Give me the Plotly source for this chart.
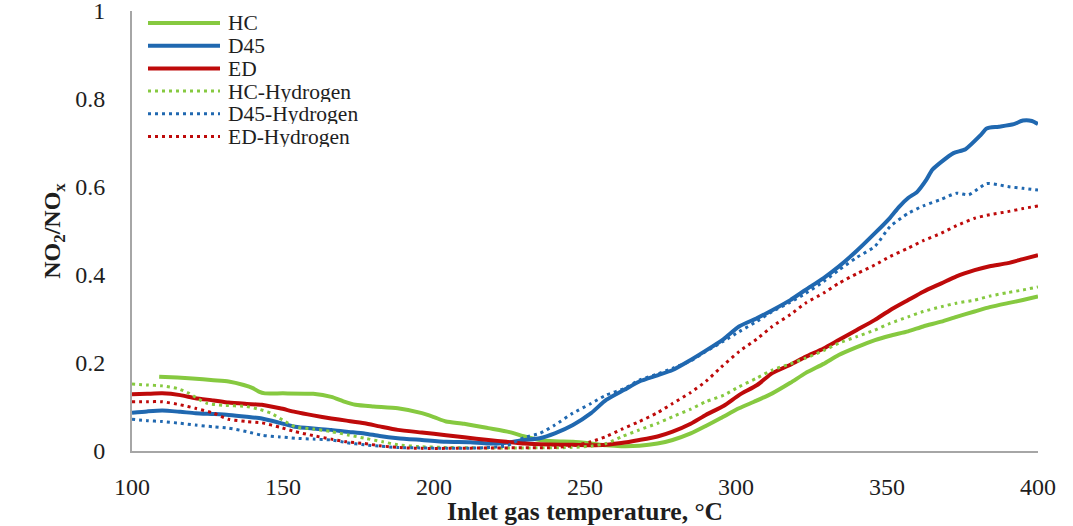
import plotly.graph_objects as go

# Inlet gas temperature (°C) and NO2/NOx ratio for each fuel / hydrogen case
hc_t = [109, 115, 120, 127, 132, 137, 140, 142, 144, 150, 160, 166, 170, 174, 180, 188, 196, 200, 204,
        210, 218, 225, 230, 235, 240, 246, 252, 257, 262, 268, 274, 279, 285, 290, 295, 301, 306, 312,
        318, 323, 329, 334, 340, 346, 351, 357, 362, 368, 373, 379, 384, 390, 395, 400]
hc_v = [0.169, 0.167, 0.165, 0.161, 0.158, 0.150, 0.143, 0.135, 0.131, 0.131, 0.130, 0.123, 0.113, 0.105,
        0.101, 0.097, 0.086, 0.077, 0.067, 0.062, 0.052, 0.043, 0.033, 0.025, 0.022, 0.021, 0.017, 0.013,
        0.011, 0.012, 0.017, 0.025, 0.040, 0.057, 0.075, 0.097, 0.112, 0.131, 0.155, 0.177, 0.198, 0.218,
        0.236, 0.252, 0.262, 0.272, 0.283, 0.294, 0.305, 0.317, 0.327, 0.336, 0.343, 0.351]

d45_t = [100, 105, 110, 116, 121, 127, 132, 138, 143, 149, 154, 160, 166, 171, 177, 182, 188, 196, 204,
         212, 218, 224, 230, 235, 240, 246, 252, 257, 263, 268, 274, 279, 285, 290, 296, 301, 307, 312,
         318, 323, 329, 334, 340, 346, 351, 354, 357, 360, 363, 365, 368, 372, 376, 381, 383, 387, 392,
         395, 398, 400]
d45_v = [0.087, 0.090, 0.092, 0.089, 0.086, 0.084, 0.082, 0.078, 0.074, 0.064, 0.055, 0.051, 0.048, 0.044,
         0.040, 0.034, 0.029, 0.025, 0.021, 0.020, 0.017, 0.019, 0.025, 0.029, 0.040, 0.059, 0.086, 0.116,
         0.139, 0.158, 0.172, 0.184, 0.207, 0.228, 0.255, 0.283, 0.302, 0.320, 0.343, 0.366, 0.393, 0.419,
         0.455, 0.495, 0.530, 0.555, 0.575, 0.589, 0.616, 0.639, 0.657, 0.677, 0.686, 0.718, 0.733, 0.737,
         0.743, 0.751, 0.750, 0.743]

ed_t = [100, 105, 110, 116, 121, 127, 132, 138, 143, 149, 154, 160, 166, 171, 177, 182, 188, 196, 204,
        210, 218, 224, 230, 238, 246, 252, 257, 262, 268, 274, 279, 285, 290, 296, 301, 307, 312, 318,
        323, 329, 334, 340, 346, 351, 357, 362, 368, 373, 379, 384, 390, 395, 400]
ed_v = [0.129, 0.130, 0.131, 0.127, 0.120, 0.115, 0.110, 0.107, 0.105, 0.097, 0.089, 0.081, 0.074, 0.069,
        0.063, 0.056, 0.048, 0.042, 0.036, 0.031, 0.025, 0.021, 0.017, 0.015, 0.014, 0.013, 0.014, 0.018,
        0.025, 0.033, 0.044, 0.062, 0.082, 0.103, 0.127, 0.150, 0.177, 0.196, 0.214, 0.233, 0.252, 0.275,
        0.298, 0.320, 0.343, 0.362, 0.381, 0.397, 0.411, 0.420, 0.427, 0.436, 0.445]

hch_t = [100, 105, 110, 115, 119, 122, 125, 130, 138, 142, 146, 150, 154, 160, 166, 172, 177, 183, 188,
         195, 204, 215, 230, 245, 252, 257, 262, 268, 274, 279, 285, 290, 296, 301, 307, 312, 318, 323,
         329, 334, 340, 346, 351, 357, 362, 368, 373, 379, 384, 390, 395, 400]
hch_v = [0.152, 0.150, 0.148, 0.142, 0.131, 0.118, 0.108, 0.104, 0.101, 0.095, 0.086, 0.070, 0.055, 0.050,
         0.044, 0.036, 0.029, 0.021, 0.014, 0.010, 0.008, 0.007, 0.007, 0.008, 0.011, 0.017, 0.032, 0.048,
         0.063, 0.078, 0.095, 0.112, 0.127, 0.146, 0.166, 0.184, 0.198, 0.211, 0.228, 0.245, 0.260, 0.275,
         0.290, 0.305, 0.317, 0.328, 0.336, 0.343, 0.352, 0.360, 0.366, 0.373]

d45h_t = [100, 105, 110, 116, 121, 127, 132, 138, 143, 149, 154, 160, 166, 171, 177, 182, 188, 196, 204,
          215, 224, 230, 235, 240, 246, 252, 257, 263, 268, 274, 279, 285, 290, 296, 301, 307, 312, 318,
          323, 329, 334, 340, 346, 351, 357, 362, 368, 373, 377, 380, 383, 387, 390, 395, 400]
d45h_v = [0.072, 0.069, 0.067, 0.063, 0.059, 0.055, 0.052, 0.044, 0.036, 0.032, 0.029, 0.027, 0.025, 0.019,
          0.014, 0.011, 0.008, 0.007, 0.006, 0.007, 0.012, 0.031, 0.040, 0.059, 0.086, 0.108, 0.127, 0.142,
          0.161, 0.175, 0.188, 0.205, 0.226, 0.250, 0.271, 0.295, 0.317, 0.338, 0.358, 0.385, 0.411, 0.440,
          0.465, 0.510, 0.540, 0.557, 0.572, 0.586, 0.582, 0.595, 0.608, 0.605, 0.601, 0.597, 0.593]

edh_t = [100, 105, 110, 116, 121, 127, 132, 138, 143, 149, 154, 160, 166, 171, 177, 182, 188, 196, 204,
         220, 240, 246, 252, 257, 262, 268, 274, 279, 285, 290, 295, 301, 307, 312, 318, 323, 329, 334,
         340, 346, 351, 357, 362, 368, 373, 379, 384, 390, 395, 400]
edh_v = [0.112, 0.112, 0.112, 0.105, 0.097, 0.086, 0.072, 0.067, 0.064, 0.054, 0.044, 0.035, 0.027, 0.021,
         0.017, 0.012, 0.008, 0.006, 0.006, 0.007, 0.008, 0.012, 0.021, 0.033, 0.049, 0.067, 0.087, 0.108,
         0.133, 0.158, 0.190, 0.226, 0.255, 0.283, 0.310, 0.336, 0.359, 0.381, 0.403, 0.423, 0.442, 0.461,
         0.478, 0.495, 0.512, 0.529, 0.537, 0.544, 0.551, 0.557]

x_ticks = [100, 150, 200, 250, 300, 350, 400]
y_ticks = [0, 0.2, 0.4, 0.6, 0.8, 1]
y_labels = ["0", "0.2", "0.4", "0.6", "0.8", "1"]

GREEN = "#86C940"
BLUE = "#2068B0"
RED = "#BE0A0A"
FONT = "Liberation Serif"
TEXT = "#1e1e1e"
DOT = "3px,4px"

series = [
    ("HC", hc_t, hc_v, GREEN, "solid"),
    ("D45", d45_t, d45_v, BLUE, "solid"),
    ("ED", ed_t, ed_v, RED, "solid"),
    ("HC-Hydrogen", hch_t, hch_v, GREEN, DOT),
    ("D45-Hydrogen", d45h_t, d45h_v, BLUE, DOT),
    ("ED-Hydrogen", edh_t, edh_v, RED, DOT),
]

W, H = 1073, 526
ML, MR, MT, MB = 132, 35, 11, 75
PW, PH = W - ML - MR, H - MT - MB

fig = go.Figure()
for name, t, v, color, dash in series:
    fig.add_trace(go.Scatter(
        x=t, y=v, name=name, mode="lines", showlegend=False,
        line=dict(color=color, width=4 if dash == "solid" else 3, dash=dash,
                  shape="spline", smoothing=0.6),
    ))

# Compact key in the upper-left corner of the plot area (long line samples, tight rows)
KEY_X0, KEY_X1, KEY_TXT = 148, 220, 226   # px from the left edge of the figure
KEY_Y0, KEY_STEP = 23, 22.7               # px from the top edge of the figure
shapes, notes = [], []
for i, (name, _, _, color, dash) in enumerate(series):
    yp = 1 - (KEY_Y0 + i * KEY_STEP - MT) / PH
    shapes.append(dict(
        type="line", xref="paper", yref="paper",
        x0=(KEY_X0 - ML) / PW, x1=(KEY_X1 - ML) / PW, y0=yp, y1=yp,
        line=dict(color=color, width=4 if dash == "solid" else 3, dash=dash),
    ))
    notes.append(dict(
        text=name, xref="paper", yref="paper", x=(KEY_TXT - ML) / PW, y=yp,
        xanchor="left", yanchor="middle", showarrow=False, height=21,
        font=dict(family=FONT, size=21.5, color=TEXT),
    ))

fig.update_layout(
    width=W, height=H,
    margin=dict(l=ML, r=MR, t=MT, b=MB),
    paper_bgcolor="white", plot_bgcolor="white",
    font=dict(family=FONT, color=TEXT),
    showlegend=False,
    shapes=shapes, annotations=notes,
    xaxis=dict(
        range=[100, 400], tickvals=x_ticks, showgrid=False, zeroline=False, automargin=False,
        showline=True, linecolor="#a6a6a6", linewidth=2, ticks="",
        tickfont=dict(family=FONT, size=24), ticklabelstandoff=13,
        title=dict(text="<b>Inlet gas temperature, °C</b>", font=dict(family=FONT, size=25.5), standoff=3),
    ),
    yaxis=dict(
        range=[0, 1], tickvals=y_ticks, ticktext=y_labels, showgrid=False, zeroline=False, automargin=False,
        showline=True, linecolor="#a6a6a6", linewidth=2, ticks="",
        tickfont=dict(family=FONT, size=24), ticklabelstandoff=20, ticklabeloverflow="allow",
        title=dict(text="<b>NO<sub>2</sub>/NO<sub>x</sub></b>", font=dict(family=FONT, size=24), standoff=8),
    ),
)

fig.write_html("out.html")
